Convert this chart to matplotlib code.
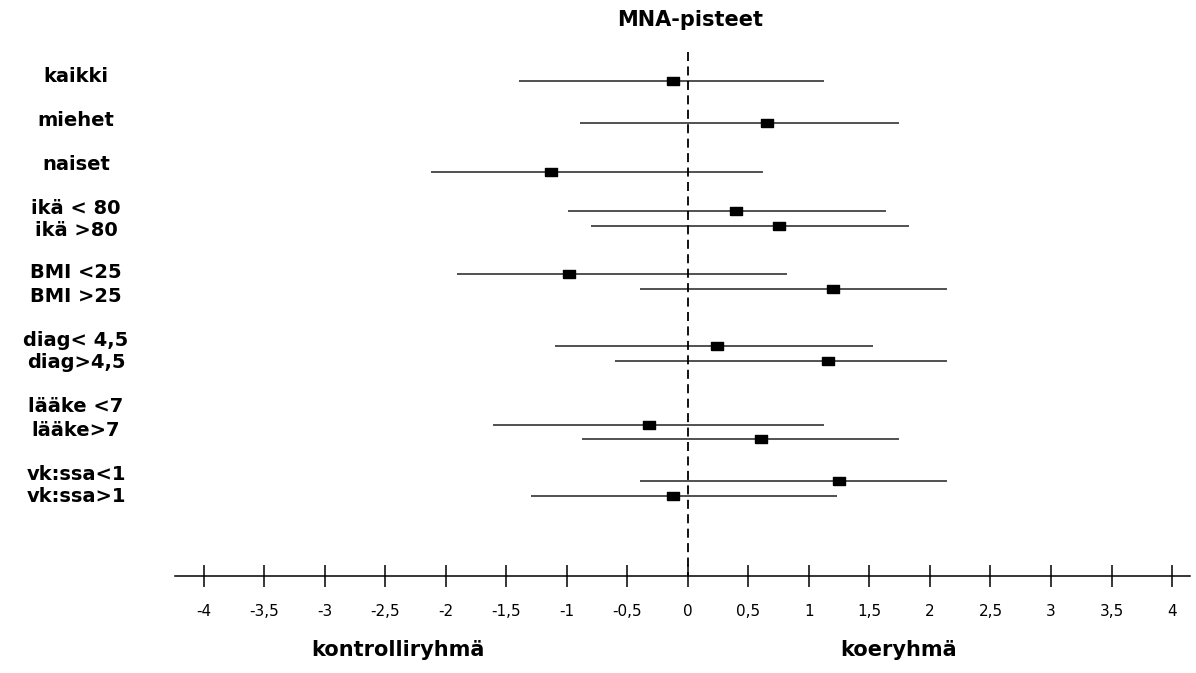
import numpy as np
import matplotlib
matplotlib.use("Agg")
import matplotlib.pyplot as plt

#%% Data
labels = ["kaikki", "miehet", "naiset", "ikä < 80", "ikä >80", "BMI <25", "BMI >25",
          "diag< 4,5", "diag>4,5", "lääke <7", "lääke>7", "vk:ssa<1", "vk:ssa>1"]
means = [-0.12, 0.65, -1.13, 0.40, 0.75, -0.98, 1.20, 0.24, 1.16, -0.32, 0.60, 1.25, -0.12]
lower = [-1.40, -0.89, -2.12, -0.99, -0.80, -1.91, -0.40, -1.10, -0.60, -1.61, -0.88, -0.40, -1.30]
upper = [1.12, 1.74, 0.62, 1.64, 1.83, 0.82, 2.14, 1.53, 2.14, 1.12, 1.74, 2.14, 1.23]
xticks = np.arange(-4, 4.01, 0.5)

#%% Layout (pixel rows of the 1196x673 canvas)
W, H = 1196, 673
X0, SCALE = 688, 121          # pixel of x=0, pixels per unit
row_y = [81, 123, 172, 211, 226, 274, 289, 346, 361, 425, 439, 481, 496]
label_y = [76, 120, 164, 208, 231, 273, 296, 341, 363, 407, 430, 474, 496]
AXIS_Y = 576

def px2x(px):
    return (px - X0) / SCALE

fig = plt.figure(figsize=(W / 100, H / 100), dpi=100)
ax = fig.add_axes([0, 0, 1, 1])
ax.set_xlim(px2x(0), px2x(W))
ax.set_ylim(H, 0)

# confidence intervals + point estimates
ax.hlines(row_y, lower, upper, color="#222222", lw=1.1)
rect = [(-1.4, -1), (1.4, -1), (1.4, 1), (-1.4, 1), (-1.4, -1)]
ax.plot(means, row_y, linestyle="none", marker=rect, ms=9, color="black")

# zero line
ax.vlines(0, 52, AXIS_Y, colors="black", lw=1.3, linestyles=(0, (5, 3)))

# x axis
for s in ["top", "left", "right"]:
    ax.spines[s].set_visible(False)
ax.spines["bottom"].set_position(("data", AXIS_Y))
ax.spines["bottom"].set_bounds(px2x(175), px2x(1190))
ax.spines["bottom"].set_linewidth(1.1)
ax.set_xticks(xticks)
ax.set_xticklabels([f"{t:g}".replace(".", ",") for t in xticks])
ax.tick_params(axis="x", direction="inout", length=16, width=1.1, pad=12,
               labelsize=11, colors="black")
ax.set_yticks([])
for t in ax.get_xticklabels():
    t.set_family("DejaVu Sans")

# row labels
for lab, ly in zip(labels, label_y):
    ax.text(px2x(76), ly, lab, ha="center", va="center", fontsize=14,
            fontweight="bold", family="DejaVu Sans")

ax.text(px2x(690), 20, "MNA-pisteet", ha="center", va="center", fontsize=15,
        fontweight="bold", family="DejaVu Sans")
ax.text(px2x(398), 650, "kontrolliryhmä", ha="center", va="center", fontsize=15,
        fontweight="bold", family="DejaVu Sans")
ax.text(px2x(899), 650, "koeryhmä", ha="center", va="center", fontsize=15,
        fontweight="bold", family="DejaVu Sans")

fig.savefig("out.png", dpi=100, facecolor="white")
